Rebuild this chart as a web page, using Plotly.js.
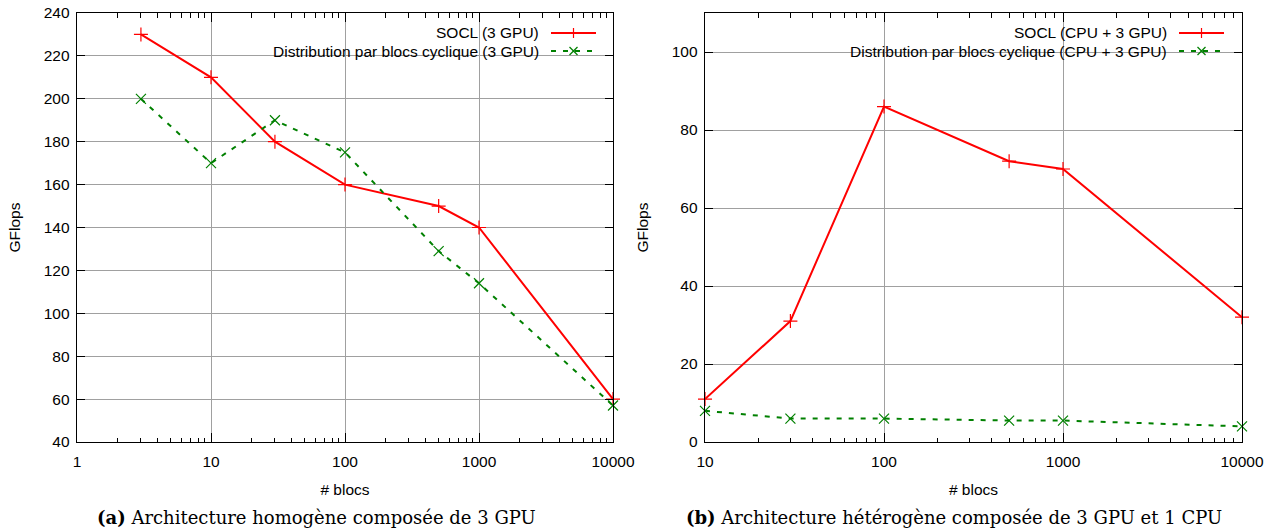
<!DOCTYPE html>
<html>
<head>
<meta charset="utf-8">
<script src="https://cdn.plot.ly/plotly-3.0.1.min.js"></script>
<style>html,body{margin:0;padding:0;background:#fff;}#chart{width:1270px;height:531px;}</style>
</head>
<body>
<div id="chart"></div>
<script>
// ---- data: (a) homogeneous, 3 GPU ----
const blocsA = [3, 10, 30, 100, 500, 1000, 10000];
const soclA = [230, 210, 180, 160, 150, 140, 60];
const cyclA = [200, 170, 190, 175, 129, 114, 57];
// ---- data: (b) heterogeneous, CPU + 3 GPU ----
const blocsB = [10, 30, 100, 500, 1000, 10000];
const soclB = [11, 31, 86, 72, 70, 32];
const cyclB = [8, 6, 6, 5.5, 5.5, 4];
// ---- tick labels ----
const xTicksA = [1, 10, 100, 1000, 10000];
const xTicksB = [10, 100, 1000, 10000];
const nameSoclA = 'SOCL (3 GPU)';
const nameCyclA = 'Distribution par blocs cyclique (3 GPU)';
const nameSoclB = 'SOCL (CPU + 3 GPU)';
const nameCyclB = 'Distribution par blocs cyclique (CPU + 3 GPU)';
const captionA = '<b>(a)</b> Architecture homogène composée de 3 GPU';
const captionB = '<b>(b)</b> Architecture hétérogène composée de 3 GPU et 1 CPU';
const xTitle = '# blocs';
const yTitle = 'GFlops';

const RED = '#ff0000', GREEN = '#008000';
const W = 1270, H = 531;
const px = v => v / W, py = v => (H - v) / H;
const font = {family: 'Liberation Sans, Arial, sans-serif', size: 15.5, color: '#000'};

function redTrace(x, y, xa, ya, name) {
  return {x, y, xaxis: xa, yaxis: ya, name, type: 'scatter', mode: 'lines+markers',
    line: {color: RED, width: 2}, cliponaxis: false,
    marker: {symbol: 'cross-thin-open', size: 10, line: {color: RED, width: 1.2}}};
}
function greenTrace(x, y, xa, ya, name) {
  return {x, y, xaxis: xa, yaxis: ya, name, type: 'scatter', mode: 'lines+markers',
    line: {color: GREEN, width: 2, dash: '5px,7px'}, cliponaxis: false,
    marker: {symbol: 'x-thin-open', size: 10, line: {color: GREEN, width: 1.2}}};
}

const data = [
  redTrace(blocsA, soclA, 'x', 'y', nameSoclA),
  greenTrace(blocsA, cyclA, 'x', 'y', nameCyclA),
  redTrace(blocsB, soclB, 'x2', 'y2', nameSoclB),
  greenTrace(blocsB, cyclB, 'x2', 'y2', nameCyclB)
];

function xAxis(domain, ticks, anchor) {
  return {
    type: 'log', domain, anchor,
    range: [Math.log10(ticks[0]), Math.log10(ticks[ticks.length - 1])],
    tickvals: ticks, ticktext: ticks.map(String),
    ticks: 'inside', ticklen: 9, tickwidth: 1, tickcolor: '#000',
    showline: true, linecolor: '#000', linewidth: 1.3, mirror: 'allticks',
    showgrid: true, gridcolor: '#a0a0a0', gridwidth: 1,
    minor: {ticks: 'inside', ticklen: 4.5, tickwidth: 1, tickcolor: '#000', dtick: 'D1', showgrid: false},
    zeroline: false, tickfont: font, ticklabelstandoff: 5,
    title: {text: xTitle, font: font, standoff: 15}
  };
}
function yAxis(domain, range, anchor) {
  return {
    domain, anchor, range, dtick: 20, tick0: 0,
    ticks: 'inside', ticklen: 8, tickwidth: 1, tickcolor: '#000',
    showline: true, linecolor: '#000', linewidth: 1.3, mirror: 'allticks',
    showgrid: true, gridcolor: '#a0a0a0', gridwidth: 1,
    zeroline: false, tickfont: font, ticklabelstandoff: 3,
    title: {text: yTitle, font: font, standoff: 19}
  };
}

const yDom = [py(442), py(13)];
const layout = {
  width: W, height: H,
  margin: {l: 0, r: 0, t: 0, b: 0},
  paper_bgcolor: '#fff', plot_bgcolor: '#fff',
  showlegend: false,
  xaxis: xAxis([px(77), px(613)], xTicksA, 'y'),
  yaxis: yAxis(yDom, [40, 240], 'x'),
  xaxis2: xAxis([px(705), px(1242)], xTicksB, 'y2'),
  yaxis2: yAxis(yDom, [0, 110], 'x2'),
  shapes: [],
  annotations: []
};

// custom gnuplot-style legends (text right-aligned, sample on the right)
function legend(textRight, lineX0, lineX1, rows, boxX0, boxX1) {
  layout.shapes.push({type: 'rect', xref: 'paper', yref: 'paper', layer: 'between',
    x0: px(boxX0), x1: px(boxX1), y0: py(62), y1: py(14),
    fillcolor: '#fff', line: {width: 0}});
  rows.forEach((r, i) => {
    const yy = py(r.y);
    layout.annotations.push({xref: 'paper', yref: 'paper', x: px(textRight), y: yy,
      xanchor: 'right', yanchor: 'middle', showarrow: false, text: r.text, font: font});
    layout.shapes.push({type: 'line', xref: 'paper', yref: 'paper', layer: 'above',
      x0: px(lineX0), x1: px(lineX1), y0: yy, y1: yy,
      line: {color: r.color, width: 2, dash: r.dash}});
    const mx = px((lineX0 + lineX1) / 2);
    const segs = r.marker === '+'
      ? [[-5, 0, 5, 0], [0, -5, 0, 5]]
      : [[-4, -4, 4, 4], [-4, 4, 4, -4]];
    segs.forEach(s => layout.shapes.push({type: 'line', xref: 'paper', yref: 'paper', layer: 'above',
      xsizemode: 'pixel', ysizemode: 'pixel', xanchor: mx, yanchor: yy,
      x0: s[0], y0: s[1], x1: s[2], y1: s[3],
      line: {color: r.color, width: 1.2}}));
  });
}
legend(541, 551, 596, [
  {y: 33, text: nameSoclA, color: RED, dash: 'solid', marker: '+'},
  {y: 51, text: nameCyclA, color: GREEN, dash: '5px,7px', marker: 'x'}
], 197, 612);
legend(1169, 1179, 1224, [
  {y: 33, text: nameSoclB, color: RED, dash: 'solid', marker: '+'},
  {y: 51, text: nameCyclB, color: GREEN, dash: '5px,7px', marker: 'x'}
], 773, 1241);

// captions
const capFont = {family: 'DejaVu Serif, Liberation Serif, serif', size: 18, color: '#000'};
layout.annotations.push({xref: 'paper', yref: 'paper', x: px(316), y: py(517), xanchor: 'center', yanchor: 'middle',
  showarrow: false, text: captionA, font: capFont});
layout.annotations.push({xref: 'paper', yref: 'paper', x: px(954), y: py(517), xanchor: 'center', yanchor: 'middle',
  showarrow: false, text: captionB, font: capFont});

Plotly.newPlot('chart', data, layout, {staticPlot: true, displayModeBar: false});
</script>
</body>
</html>
